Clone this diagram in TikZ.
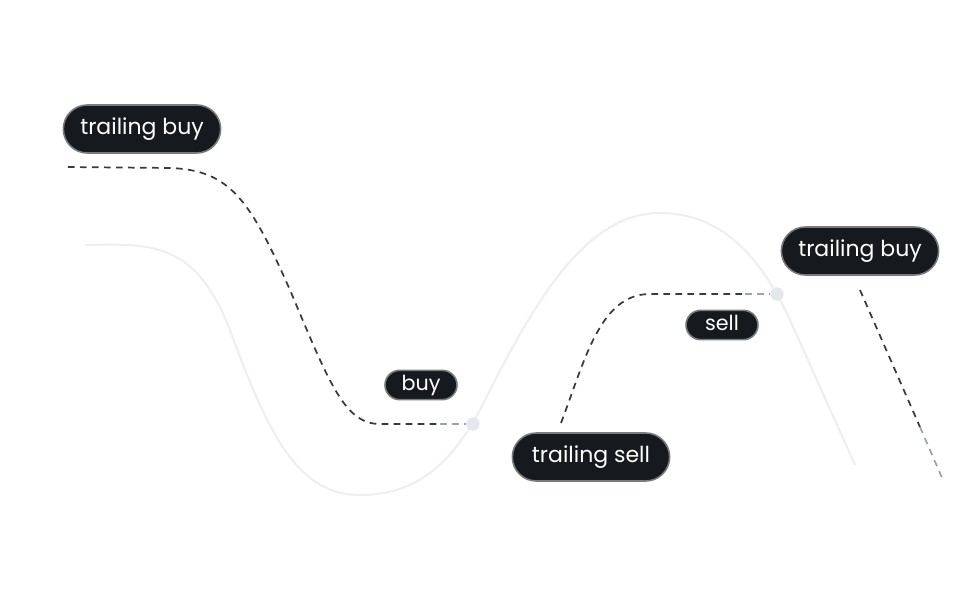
\documentclass[tikz,border=0pt]{standalone}
\usepackage{fontspec}
\setmainfont{Poppins}
\definecolor{pill}{RGB}{22,26,31}
\definecolor{pillrim}{RGB}{120,124,128}
\definecolor{dashc}{RGB}{55,59,65}
\definecolor{track}{RGB}{236,238,239}
\definecolor{dotc}{RGB}{226,232,235}
\tikzset{every picture/.style={line width=0.75pt}}
\tikzset{
	tag/.style={draw=pillrim, line width=1.2pt, fill=pill, text=white, inner xsep=12pt, text height=10pt, text depth=2pt},
	bigtag/.style={tag, minimum width=118pt, minimum height=36pt, rounded corners=18pt, font=\fontsize{16.5}{16.5}\selectfont},
	smalltag/.style={tag, minimum width=54pt, minimum height=22pt, rounded corners=11pt, font=\fontsize{15.5}{15.5}\selectfont},
	guide/.style={dashc, dash pattern=on 5pt off 4pt, line width=1.3pt},
	knot/.style={circle, fill=dotc, inner sep=0pt, minimum size=10pt}}
\begin{document}
\begin{tikzpicture}[x=0.75pt,y=0.75pt,yscale=-1,xscale=1]
	\useasboundingbox (0,0) rectangle (972,600);

	% price track
	\draw [track, line width=1.5pt] (85,245) .. controls (150,244) and (195,240) .. (230,330) .. controls (270,440) and (300,495) .. (360,495) .. controls (420,495) and (455,460) .. (485,400) .. controls (540,290) and (590,213) .. (660,213) .. controls (720,213) and (760,255) .. (790,320) -- (855,465);

	% points on the track
	\node [knot] (k1) at (473,424) {};
	\node [knot] (k2) at (777,294) {};
	\coordinate (a0) at (68,167);
	\coordinate (b0) at (561,423);
	\coordinate (c0) at (860,290);
	\coordinate (c1) at (943,480);

	% dashed guides
	\draw [guide] (a0) -- (170,168) .. controls (230,170) and (250,200) .. (290,290) .. controls (330,385) and (345,424) .. (380,424) -- (440,424);
	\draw [guide, dotc!60!dashc] (440,424) -- (k1);
	\draw [guide] (b0) .. controls (585,360) and (600,294) .. (650,294) -- (745,294);
	\draw [guide, dotc!60!dashc] (745,294) -- (k2);
	\draw [guide] (c0) -- (920,427);
	\draw [guide, dotc!60!dashc] (920,427) -- (c1);

	% labels
	\node [bigtag] (tb1) at (142,129) {trailing buy};
	\node [smalltag] (buy) at (421,385) {buy};
	\node [bigtag] (ts) at (591,457) {trailing sell};
	\node [smalltag] (sell) at (722,325) {sell};
	\node [bigtag] (tb2) at (860,251) {trailing buy};

\end{tikzpicture}
\end{document}
